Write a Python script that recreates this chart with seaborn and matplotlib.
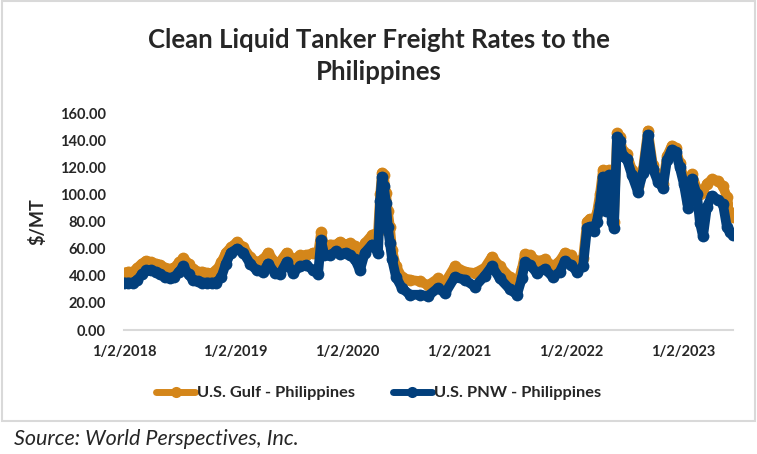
import pandas as pd
import matplotlib.pyplot as plt
from matplotlib.lines import Line2D
from matplotlib.patches import Rectangle
import seaborn as sns

# valeurs ($/MT)
dates = [
    "2018-01-02", "2018-01-16", "2018-02-01", "2018-02-15", "2018-03-01", "2018-03-15",
    "2018-04-01", "2018-04-15", "2018-05-01", "2018-05-15", "2018-06-01", "2018-06-15",
    "2018-07-01", "2018-07-15", "2018-08-01", "2018-08-15", "2018-09-01", "2018-09-15",
    "2018-10-01", "2018-10-15", "2018-10-31", "2018-11-16", "2018-12-01", "2018-12-17",
    "2019-01-07", "2019-01-27", "2019-02-18", "2019-03-11", "2019-04-02", "2019-04-18",
    "2019-05-10", "2019-05-26", "2019-06-17", "2019-07-09", "2019-07-31", "2019-08-21",
    "2019-09-12", "2019-09-28", "2019-10-08", "2019-10-19", "2019-11-06", "2019-11-25",
    "2019-12-09", "2019-12-28", "2020-01-10", "2020-01-27", "2020-02-12", "2020-02-28",
    "2020-03-22", "2020-04-11", "2020-04-18", "2020-04-24", "2020-04-30", "2020-05-07",
    "2020-05-13", "2020-05-20", "2020-05-27", "2020-06-09", "2020-06-28", "2020-07-24",
    "2020-08-26", "2020-09-21", "2020-10-24", "2020-11-16", "2020-12-18", "2021-01-20",
    "2021-02-22", "2021-03-26", "2021-04-18", "2021-05-14", "2021-06-16", "2021-07-09",
    "2021-07-25", "2021-08-04", "2021-08-20", "2021-09-12", "2021-10-08", "2021-11-04",
    "2021-11-26", "2021-12-13", "2022-01-01", "2022-01-21", "2022-02-10", "2022-02-23",
    "2022-03-04", "2022-03-17", "2022-03-27", "2022-04-06", "2022-04-16", "2022-04-26",
    "2022-05-05", "2022-05-15", "2022-05-22", "2022-06-01", "2022-06-10", "2022-06-20",
    "2022-07-03", "2022-07-20", "2022-08-08", "2022-08-25", "2022-09-10", "2022-09-26",
    "2022-10-13", "2022-10-29", "2022-11-11", "2022-11-27", "2022-12-10", "2022-12-23",
    "2023-01-05", "2023-01-19", "2023-02-01", "2023-02-17", "2023-02-27", "2023-03-09",
    "2023-03-22", "2023-04-07", "2023-04-27", "2023-05-13", "2023-05-26", "2023-06-05",
    "2023-06-15",
]
gulf = [
    42, 43, 43, 46, 49, 51, 50, 49, 48, 46, 45, 46,
    50, 53, 49, 45, 43, 43, 42, 42, 44, 50, 57, 61,
    65, 61, 54, 50, 52, 57, 50, 50, 57, 52, 55, 55,
    57, 56, 72, 61, 63, 63, 65, 63, 64, 62, 54, 64,
    70, 72, 100, 116, 114, 101, 88, 76, 59, 47, 39, 37,
    36, 33, 38, 35, 47, 43, 42, 46, 54, 47, 39, 33,
    45, 56, 55, 51, 52, 47, 51, 57, 55, 50, 53, 80,
    82, 80, 86, 100, 118, 105, 118, 90, 80, 145, 142, 132,
    130, 118, 106, 119, 147, 122, 112, 108, 128, 136, 134, 123,
    112, 94, 115, 104, 100, 102, 108, 111, 110, 106, 98, 87,
    83,
]
pnw = [
    35, 35, 35, 37, 41, 44, 44, 43, 41, 39, 38, 39,
    43, 47, 41, 37, 36, 35, 35, 35, 35, 39, 49, 57,
    60, 57, 49, 44, 43, 49, 42, 41, 50, 42, 47, 48,
    44, 41, 66, 55, 55, 58, 56, 57, 55, 52, 44, 57,
    63, 57, 95, 113, 106, 94, 76, 64, 52, 39, 31, 26,
    26, 25, 31, 27, 39, 37, 32, 40, 47, 38, 30, 26,
    38, 50, 48, 42, 45, 39, 43, 51, 48, 43, 47, 75,
    76, 73, 80, 92, 113, 88, 114, 80, 75, 142, 139, 128,
    126, 114, 102, 116, 144, 119, 109, 105, 125, 133, 131, 120,
    108, 90, 111, 100, 79, 69, 91, 99, 96, 93, 76, 72,
    70,
]
series = ["U.S. Gulf - Philippines", "U.S. PNW - Philippines"]
couleurs = ["#D4861A", "#023F7C"]
yticks = [0, 20, 40, 60, 80, 100, 120, 140, 160]
xticks = ["2018-01-02", "2019-01-02", "2020-01-02", "2021-01-02", "2022-01-02", "2023-01-02"]

df = pd.DataFrame({"date": pd.to_datetime(dates), series[0]: gulf, series[1]: pnw})
df_long = df.melt(id_vars="date", var_name="serie", value_name="taux")

sns.set_style("white")
plt.rcParams['font.family'] = ['Lato', 'DejaVu Sans']

fig = plt.figure(figsize=(7.57, 4.54), dpi=100)
ax = fig.add_axes([0.1638, 0.2731, 0.8045, 0.478])

# traits epais + gros marqueurs comme dans excel
sns.lineplot(data=df_long, x="date", y="taux", hue="serie", palette=couleurs,
             marker="o", markersize=8.5, markeredgewidth=0, linewidth=7,
             solid_joinstyle="round", solid_capstyle="round",
             legend=False, ax=ax)

ax.set_xlim(df["date"].iloc[0], df["date"].iloc[-1])
ax.set_ylim(0, 160)
ax.set_yticks(yticks)
ax.set_yticklabels([f"{v:.2f}" for v in yticks], fontweight="bold", fontsize=10.5)
xt = pd.to_datetime(xticks)
ax.set_xticks(xt)
ax.set_xticklabels([f"{d.month}/{d.day}/{d.year}" for d in xt], fontweight="bold", fontsize=10.5)
ax.tick_params(axis="x", length=7, width=1.5, color="#D9D9D9", pad=4)
ax.tick_params(axis="y", length=0, pad=13)

for cote in ["top", "right", "left"]:
    ax.spines[cote].set_visible(False)
ax.spines["bottom"].set_color("#D9D9D9")
ax.spines["bottom"].set_linewidth(1.5)

ax.set_xlabel("")
ax.set_ylabel("$/MT", fontweight="bold", fontsize=13, labelpad=10)

fig.text(0.5, 0.877, "Clean Liquid Tanker Freight Rates to the\nPhilippines",
         ha="center", va="center", fontsize=18.5, fontweight="bold", linespacing=1.4)

# legende en bas
poignees = [Line2D([0], [0], color=c, linewidth=5, marker="o", markersize=8,
                   markeredgewidth=0) for c in couleurs]
fig.legend(poignees, series, loc="center", bbox_to_anchor=(0.5, 0.134), ncol=2,
           frameon=False, prop={"weight": "bold", "size": 11.8},
           handlelength=2.4, handletextpad=0.1, columnspacing=2.3)

# cadre du graphique
fig.patches.append(Rectangle((0.002, 0.072), 0.996, 0.926, transform=fig.transFigure,
                             fill=False, edgecolor="#D9D9D9", linewidth=1.5))

fig.text(0.018, 0.033, "Source: World Perspectives, Inc.", ha="left", va="center",
         fontsize=15.5, fontstyle="italic")

plt.savefig("out.png", dpi=100)
plt.close()
